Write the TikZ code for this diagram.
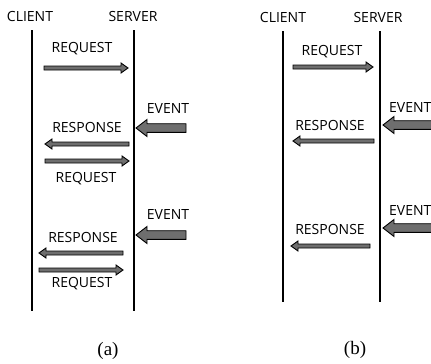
\documentclass[tikz,border=0pt]{standalone}
\usepackage{fontspec}
\setmainfont{Open Sans}
\newfontfamily\capfont{Liberation Serif}
\usetikzlibrary{calc}

% horizontal block arrow: from, to, shaft half-height, head half-height, head length
\newcommand\blockarrow[5]{%
  \draw[blockfill] let \p1=(#1), \p2=(#2), \n1={sign(\x2-\x1)} in
    (\x1,\y1+#3) -- (\x2-\n1*#5,\y1+#3) -- (\x2-\n1*#5,\y1+#4) -- (\x2,\y1)
    -- (\x2-\n1*#5,\y1-#4) -- (\x2-\n1*#5,\y1-#3) -- (\x1,\y1-#3) -- cycle;}

\begin{document}
\begin{tikzpicture}[x=1pt,y=-1pt,
  blockfill/.style={draw=black,fill=black!57,line width=0.9pt,line join=miter},
  lifeline/.style={line width=2.4pt},
  lbl/.style={inner sep=0pt,font=\fontsize{14}{16}\selectfont},
  caption/.style={inner sep=0pt,font=\capfont\fontsize{19}{21}\selectfont}]
\clip (0,0) rectangle (431,364);

% ---------- (a) polling-style exchange ----------
\node[lbl] (cla) at (30,16) {CLIENT};
\node[lbl] (sva) at (133,16) {SERVER};
\coordinate (cla1) at (32,30);  \coordinate (cla2) at (32,311);
\coordinate (sva1) at (134,30); \coordinate (sva2) at (134,311);
\draw[lifeline] (cla1) -- (cla2);
\draw[lifeline] (sva1) -- (sva2);

\node[lbl] (reqa1) at (82,49) {REQUEST};
\coordinate (ra1s) at (44,68);  \coordinate (ra1e) at (128,68);
\blockarrow{ra1s}{ra1e}{2}{5}{7}

\node[lbl] (eva1) at (168,109) {EVENT};
\coordinate (ea1s) at (186,128); \coordinate (ea1e) at (136,128);
\blockarrow{ea1s}{ea1e}{4.3}{8.5}{11}

\node[lbl] (rspa1) at (87,127) {RESPONSE};
\coordinate (pa1s) at (129,144); \coordinate (pa1e) at (45,144);
\blockarrow{pa1s}{pa1e}{2}{5}{7}

\coordinate (ra2s) at (45,161); \coordinate (ra2e) at (129,161);
\blockarrow{ra2s}{ra2e}{2}{5}{7}
\node[lbl] (reqa2) at (86,179) {REQUEST};

\node[lbl] (eva2) at (168,214) {EVENT};
\coordinate (ea2s) at (186,235); \coordinate (ea2e) at (136,235);
\blockarrow{ea2s}{ea2e}{4.3}{8.5}{11}

\node[lbl] (rspa2) at (83,237) {RESPONSE};
\coordinate (pa2s) at (123,253); \coordinate (pa2e) at (39,253);
\blockarrow{pa2s}{pa2e}{2}{5}{7}

\coordinate (ra3s) at (39,270); \coordinate (ra3e) at (123,270);
\blockarrow{ra3s}{ra3e}{2}{5}{7}
\node[lbl] (reqa3) at (82,284) {REQUEST};

\node[caption] (capa) at (108,351) {(a)};

% ---------- (b) push-style exchange ----------
\node[lbl] (clb) at (283,17) {CLIENT};
\node[lbl] (svb) at (378,17) {SERVER};
\coordinate (clb1) at (283,31);  \coordinate (clb2) at (283,302);
\coordinate (svb1) at (380,31);  \coordinate (svb2) at (380,302);
\draw[lifeline] (clb1) -- (clb2);
\draw[lifeline] (svb1) -- (svb2);

\node[lbl] (reqb1) at (332,52) {REQUEST};
\coordinate (rb1s) at (293,67); \coordinate (rb1e) at (373,67);
\blockarrow{rb1s}{rb1e}{2}{5}{7}

\node[lbl,anchor=west] (evb1) at (389,108) {EVENT};
\coordinate (eb1s) at (445,125); \coordinate (eb1e) at (383,125);
\blockarrow{eb1s}{eb1e}{4.3}{8.5}{11}

\node[lbl] (rspb1) at (330,125) {RESPONSE};
\coordinate (pb1s) at (374,141); \coordinate (pb1e) at (293,141);
\blockarrow{pb1s}{pb1e}{2}{5}{7}

\node[lbl,anchor=west] (evb2) at (389,210) {EVENT};
\coordinate (eb2s) at (445,228); \coordinate (eb2e) at (383,228);
\blockarrow{eb2s}{eb2e}{4.3}{8.5}{11}

\node[lbl] (rspb2) at (330,229) {RESPONSE};
\coordinate (pb2s) at (370,246); \coordinate (pb2e) at (291,246);
\blockarrow{pb2s}{pb2e}{2}{5}{7}

\node[caption] (capb) at (355,350) {(b)};
\end{tikzpicture}
\end{document}
